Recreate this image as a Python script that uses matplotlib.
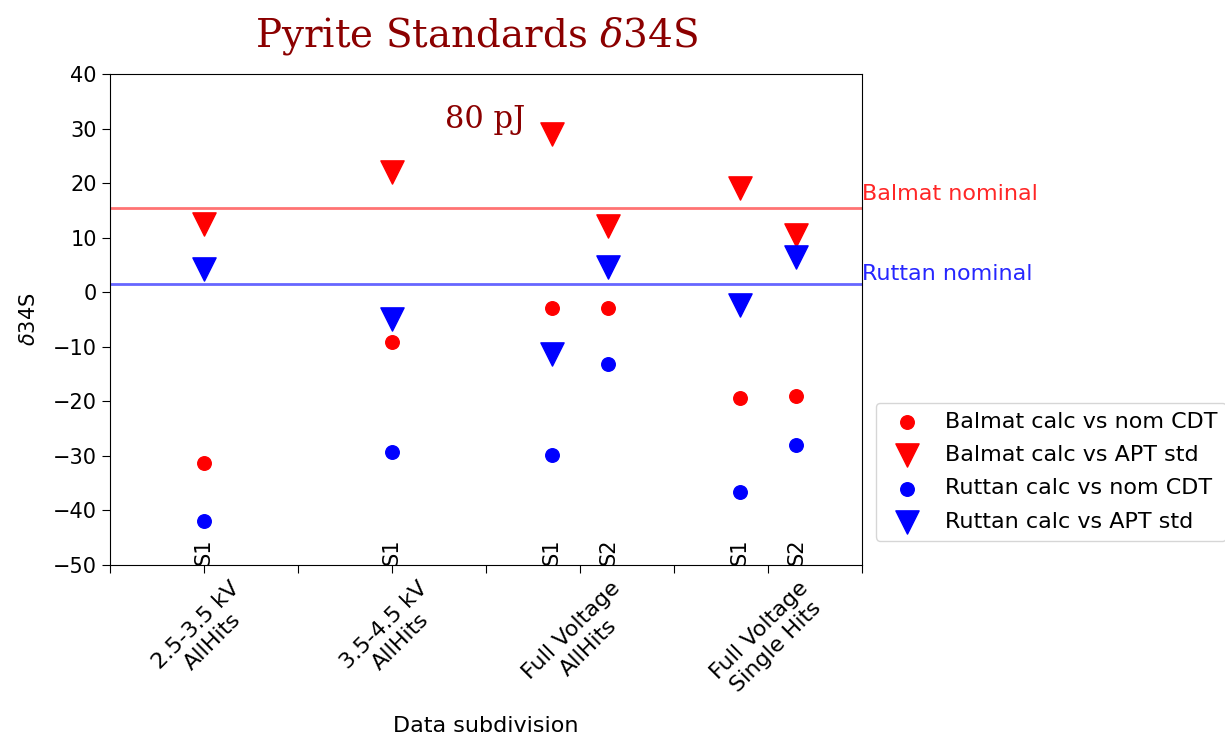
import matplotlib
matplotlib.use("Agg")
import matplotlib.pyplot as plt

# Subdivisions of the data set and the sample runs within each
group_labels = ["2.5-3.5 kV\nAllHits", "3.5-4.5 kV\nAllHits",
                "Full Voltage\nAllHits", "Full Voltage\nSingle Hits"]
group_pos = [1, 3, 5, 7]
run_x = [1, 3, 4.7, 5.3, 6.7, 7.3]
run_labels = ["S1", "S1", "S1", "S2", "S1", "S2"]

# delta34S results per run
balmat_cdt = [-31.3, -9.1, -2.9, -2.9, -19.4, -19.0]
balmat_apt = [12.5, 22.0, 29.0, 12.1, 19.1, 10.5]
ruttan_cdt = [-41.9, -29.3, -29.8, -13.2, -36.6, -28.0]
ruttan_apt = [4.3, -4.9, -11.3, 4.6, -2.3, 6.5]

# Nominal values of the two standards
balmat_nominal = 15.4
ruttan_nominal = 1.5

FS = 15
FS_BIG = 16

fig = plt.figure(figsize=(12.25, 7.38), dpi=100)
ax = fig.add_axes([0.0898, 0.2344, 0.6139, 0.6653])

ax.scatter(run_x, balmat_cdt, s=95, color="red", marker="o",
           label="Balmat calc vs nom CDT", zorder=3)
ax.scatter(run_x, balmat_apt, s=280, color="red", marker="v",
           label="Balmat calc vs APT std", zorder=3)
ax.scatter(run_x, ruttan_cdt, s=95, color="blue", marker="o",
           label="Ruttan calc vs nom CDT", zorder=3)
ax.scatter(run_x, ruttan_apt, s=280, color="blue", marker="v",
           label="Ruttan calc vs APT std", zorder=3)

ax.axhline(balmat_nominal, color="red", alpha=0.55, lw=2)
ax.axhline(ruttan_nominal, color="blue", alpha=0.6, lw=2)
ax.text(8.0, balmat_nominal + 0.8, "Balmat nominal", color="red", alpha=0.85,
        fontsize=FS_BIG, ha="left", va="bottom")
ax.text(8.0, ruttan_nominal, "Ruttan nominal", color="blue", alpha=0.85,
        fontsize=FS_BIG, ha="left", va="bottom")

for x, lab in zip(run_x, run_labels):
    ax.text(x, -50, lab, rotation=90, ha="center", va="bottom", fontsize=FS)

ax.text(3.99, 31.6, "80 pJ", family="DejaVu Serif", color="darkred",
        fontsize=22, ha="center", va="center")

ax.set_xlim(0, 8)
ax.set_ylim(-50, 40)
ax.set_yticks(range(-50, 41, 10))
ticks = list(range(0, 9))
labels = [""] * 9
for p, lab in zip(group_pos, group_labels):
    labels[p] = lab
ax.set_xticks(ticks)
ax.set_xticklabels(labels, rotation=45, ha="center", fontsize=FS_BIG)
ax.tick_params(axis="y", labelsize=FS)
ax.tick_params(length=6)

ax.set_xlabel("Data subdivision", fontsize=FS_BIG, labelpad=12)
ax.set_ylabel(r"$\delta$34S", fontsize=FS, labelpad=10)
ax.set_title(r"Pyrite Standards $\delta$34S", family="DejaVu Serif",
             math_fontfamily="dejavuserif", color="darkred", fontsize=28,
             pad=20, x=0.488)

ax.legend(loc="center left", bbox_to_anchor=(0.995, 0.19), fontsize=FS_BIG,
          borderaxespad=0.8, handletextpad=0.7, labelspacing=0.6)

fig.savefig("out.png", dpi=100)
